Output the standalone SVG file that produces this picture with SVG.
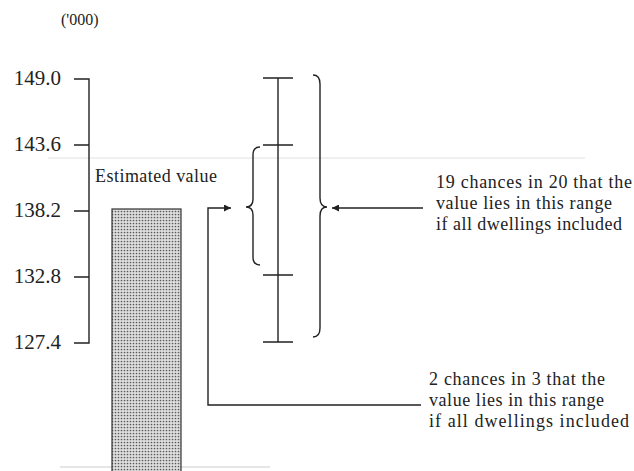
<svg xmlns="http://www.w3.org/2000/svg" width="634" height="471" viewBox="0 0 634 471">
  <style>
    .ln { stroke: #222; stroke-width: 1.4; fill: none; }
    .lbl { font-family: "Liberation Serif", "Times New Roman", serif; fill: #222; }
    .ax { font-size: 21px; text-anchor: end; }
    .note { font-size: 18px; }
  </style>
  <defs>
    <marker id="arr" viewBox="0 0 10 10" refX="10" refY="5" markerWidth="9" markerHeight="7" markerUnits="userSpaceOnUse" orient="auto">
      <path d="M0,0 L10,5 L0,10 Z" fill="#222"/>
    </marker>
    <pattern id="dots" width="3" height="3" patternUnits="userSpaceOnUse">
      <rect width="3" height="3" fill="#dedede"/>
      <circle cx="1.5" cy="1.5" r="0.85" fill="#5a5a5a"/>
    </pattern>
  </defs>
  <rect width="634" height="471" fill="#ffffff"/>
  <!-- faint scan lines -->
  <line x1="48" y1="158" x2="585" y2="158" stroke="#e0e0e0" stroke-width="1"/>
  <line x1="60" y1="467" x2="270" y2="467" stroke="#e6e6e6" stroke-width="2"/>

  <g id="axis">
    <text class="lbl" x="61" y="25" font-size="16">('000)</text>
    <path class="ln" d="M74,79 L89,79 L89,343 L74,343 M74,145 L89,145 M74,211 L89,211 M74,277 L89,277"/>
    <text class="lbl ax" x="61" y="85">149.0</text>
    <text class="lbl ax" x="61" y="151">143.6</text>
    <text class="lbl ax" x="61" y="217">138.2</text>
    <text class="lbl ax" x="61" y="283">132.8</text>
    <text class="lbl ax" x="61" y="349">127.4</text>
  </g>

  <g id="estimate">
    <text class="lbl note" x="95" y="182" textLength="122" lengthAdjust="spacing">Estimated value</text>
    <rect x="112" y="209" width="69" height="266" fill="url(#dots)" stroke="#333" stroke-width="1.2"/>
  </g>

  <g id="errorbar">
    <path class="ln" d="M278,78 L278,342 M263,78 L293,78 M263,145 L293,145 M263,275 L293,275 M263,342 L293,342"/>
  </g>

  <g id="brace-95">
    <path class="ln" d="M313,75 Q320,75 320,84 L320,198 Q320,207 327,207 Q320,207 320,216 L320,328 Q320,337 313,337"/>
  </g>

  <g id="brace-66">
    <path class="ln" d="M260,147 Q253,147 253,155 L253,199 Q253,207 246,207 Q253,207 253,215 L253,257 Q253,265 260,265"/>
  </g>

  <g id="note-95">
    <text class="lbl note" x="436" y="188" textLength="196" lengthAdjust="spacing">19 chances in 20 that the</text>
    <text class="lbl note" x="436" y="209" textLength="176" lengthAdjust="spacing">value lies in this range</text>
    <text class="lbl note" x="436" y="230" textLength="186" lengthAdjust="spacing">if all dwellings included</text>
  </g>

  <g id="note-66">
    <text class="lbl note" x="429" y="385" textLength="176" lengthAdjust="spacing">2 chances in 3 that the</text>
    <text class="lbl note" x="429" y="406" textLength="175" lengthAdjust="spacing">value lies in this range</text>
    <text class="lbl note" x="429" y="427" textLength="200" lengthAdjust="spacing">if all dwellings included</text>
  </g>

  <g id="connectors">
    <path class="ln" d="M423,208 L332,208" marker-end="url(#arr)"/>
    <path class="ln" d="M421,405 L208,405 L208,208 L231,208" marker-end="url(#arr)"/>
  </g>
</svg>
